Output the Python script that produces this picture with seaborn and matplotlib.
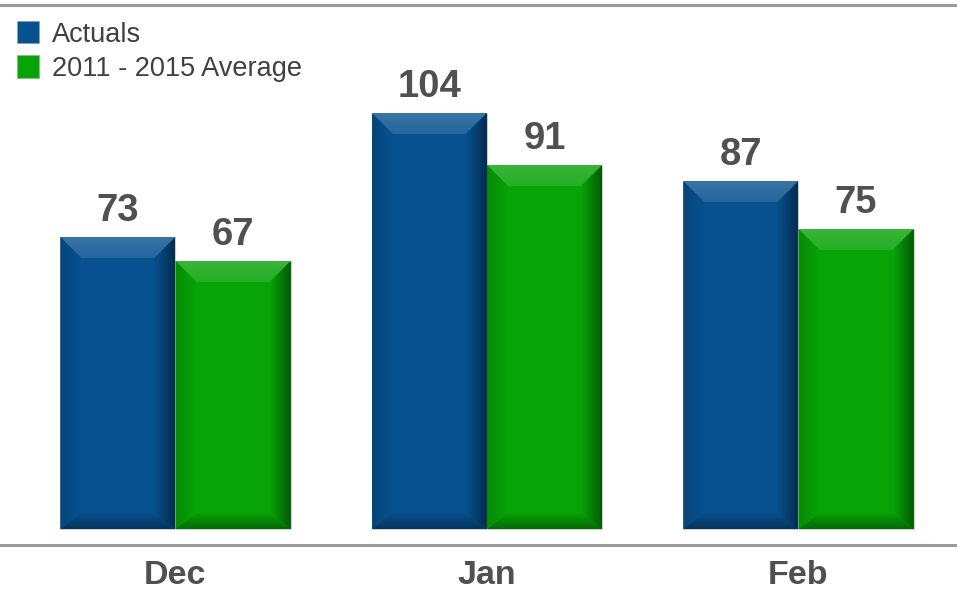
import numpy as np
import pandas as pd
import matplotlib
matplotlib.use("Agg")
import matplotlib.pyplot as plt
from matplotlib.patches import Polygon, Patch
from matplotlib.colors import to_rgb
import seaborn as sns

months = ["Dec", "Jan", "Feb"]
actuals = [73, 104, 87]
average = [67, 91, 75]
series_names = ["Actuals", "2011 - 2015 Average"]

BLUE = "#07518F"
GREEN = "#07A307"
TEXT = "#505050"
LINE = "#9A9A9A"

df = pd.DataFrame({
    "month": months * 2,
    "value": actuals + average,
    "series": [series_names[0]] * 3 + [series_names[1]] * 3,
})

sns.set_theme(style="white")
plt.rcParams["font.family"] = ["Liberation Sans", "DejaVu Sans"]

fig = plt.figure(figsize=(9.57, 5.92), dpi=100)
ax = fig.add_axes([0, 47 / 592, 1, 540 / 592])

sns.barplot(data=df, x="month", y="value", hue="series",
            palette=[BLUE, GREEN], saturation=1, width=0.74,
            edgecolor="#d8d8d8", linewidth=0.6, legend=False, ax=ax)

ax.set_xlim(-0.5634, 2.509)
ax.set_ylim(-4, 131)


def shade(c, f):
    r = np.array(to_rgb(c))
    if f >= 0:
        return tuple(r + (1 - r) * f)
    return tuple(r * (1 + f))


def grad_fill(ax, verts, c_from, c_to, horizontal, extent):
    """Fill a polygon with a linear gradient between two colours."""
    n = 64
    t = np.linspace(0, 1, n)
    a = np.array(to_rgb(c_from))
    b = np.array(to_rgb(c_to))
    cols = a[None, :] * (1 - t[:, None]) + b[None, :] * t[:, None]
    if horizontal:
        img = cols[None, :, :]
    else:
        img = cols[:, None, :]
    poly = Polygon(verts, closed=True, facecolor="none", edgecolor="none")
    ax.add_patch(poly)
    im = ax.imshow(img, extent=extent, origin="upper", aspect="auto",
                   interpolation="bilinear", zorder=3)
    im.set_clip_path(poly)


# pixel sizes of the bevel converted to data units
px_x = (2.509 + 0.5634) / 957
px_y = 135 / 540
bx = 21 * px_x
by_top = 21 * px_y
by_bot = 16 * px_y

for container in ax.containers:
    for p in container.patches:
        base = p.get_facecolor()[:3]
        x0, x1 = p.get_x(), p.get_x() + p.get_width()
        y1 = p.get_height()
        y0 = 0
        # top bevel: bright at the edge, fading into the face
        grad_fill(ax, [(x0, y1), (x1, y1), (x1 - bx, y1 - by_top), (x0 + bx, y1 - by_top)],
                  shade(base, 0.2), shade(base, 0.12), False,
                  (x0, x1, y1 - by_top, y1))
        # bottom bevel: darker
        grad_fill(ax, [(x0, y0), (x1, y0), (x1 - bx, y0 + by_bot), (x0 + bx, y0 + by_bot)],
                  shade(base, -0.02), shade(base, -0.35), False,
                  (x0, x1, y0, y0 + by_bot))
        # left bevel
        grad_fill(ax, [(x0, y0), (x0, y1), (x0 + bx, y1 - by_top), (x0 + bx, y0 + by_bot)],
                  shade(base, -0.15), shade(base, 0.0), True,
                  (x0, x0 + bx, y0, y1))
        # right bevel: darkest
        grad_fill(ax, [(x1, y0), (x1, y1), (x1 - bx, y1 - by_top), (x1 - bx, y0 + by_bot)],
                  shade(base, 0.0), shade(base, -0.45), True,
                  (x1 - bx, x1, y0, y1))
    ax.bar_label(container, fmt="%d", padding=6, fontsize=27.5,
                 fontweight="bold", color=TEXT)

for s in ["left", "right"]:
    ax.spines[s].set_visible(False)
for s in ["top", "bottom"]:
    ax.spines[s].set_visible(True)
    ax.spines[s].set_color(LINE)
    ax.spines[s].set_linewidth(2.2)

ax.set_yticks([])
ax.set_xlabel("")
ax.set_ylabel("")
ax.tick_params(axis="x", length=0, pad=11, labelsize=24.5, labelcolor=TEXT)
for t in ax.get_xticklabels():
    t.set_fontweight("bold")

handles = [Patch(facecolor=BLUE, edgecolor="#7fa0c0", linewidth=0.5),
           Patch(facecolor=GREEN, edgecolor="#80c080", linewidth=0.5)]
leg = fig.legend(handles, series_names, loc="upper left",
                 bbox_to_anchor=(17 / 957, 1 - 21 / 592), frameon=False,
                 fontsize=19.5, handlelength=0.8, handleheight=0.9,
                 handletextpad=0.5, labelspacing=0.28, borderpad=0,
                 borderaxespad=0)
for t in leg.get_texts():
    t.set_color("#404040")

fig.savefig("out.png", dpi=100)
